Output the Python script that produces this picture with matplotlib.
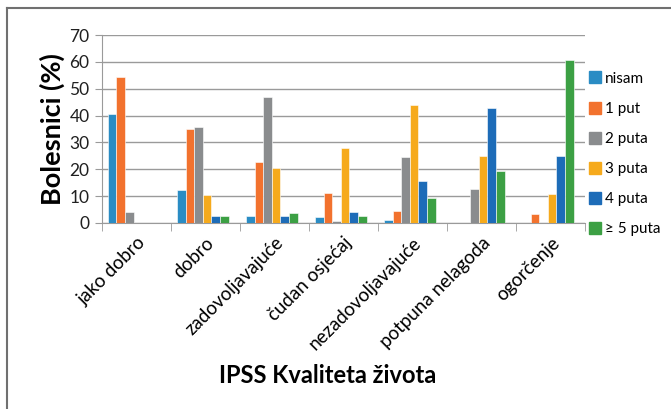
import numpy as np
import matplotlib
matplotlib.use('Agg')
import matplotlib.pyplot as plt
from matplotlib.lines import Line2D

plt.rcParams['font.family'] = ['Lato', 'DejaVu Sans']

categories = ['jako dobro', 'dobro', 'zadovoljavajuće', 'čudan osjećaj',
              'nezadovoljavajuće', 'potpuna nelagoda', 'ogorčenje']
series_names = ['nisam', '1 put', '2 puta', '3 puta', '4 puta', '≥ 5 puta']

nisam = [40.6, 12.1, 2.7, 2.2, 1.0, 0, 0]
put1 = [54.3, 35.0, 22.7, 11.2, 4.6, 0, 3.4]
puta2 = [4.1, 35.9, 47.1, 0.6, 24.5, 12.5, 0]
puta3 = [0, 10.3, 20.3, 28.1, 44.0, 24.9, 10.7]
puta4 = [0, 2.7, 2.7, 4.0, 15.8, 42.8, 24.9]
puta5 = [0, 2.7, 3.7, 2.7, 9.3, 19.3, 60.8]

colors = ['#2A8CC4', '#F2722E', '#8A8C8E', '#F6AA1C', '#1D6CB8', '#3CA044']

fig = plt.figure(figsize=(6.71, 4.09), dpi=100)
ax = fig.add_axes([0.152, 0.455, 0.72, 0.459])

x = np.arange(len(categories))
w = 0.125
all_series = [nisam, put1, puta2, puta3, puta4, puta5]
for i, vals in enumerate(all_series):
    ax.bar(x + (i - 2.5) * w - 0.04, vals, w, color=colors[i],
           edgecolor='white', linewidth=0.4, label=series_names[i], zorder=3)

ax.set_xlim(-0.5, len(categories) - 0.5)
ax.set_ylim(0, 70)
ax.set_yticks(range(0, 71, 10))
ax.yaxis.grid(True, color='#9a9a9a', linewidth=1.0, zorder=0)
ax.set_axisbelow(True)

ax.set_xticks(x)
ax.set_xticklabels(categories, rotation=45, ha='right', rotation_mode='anchor',
                   fontsize=13.5)
ax.set_xticks(np.arange(-0.5, len(categories)), minor=True)
ax.tick_params(axis='x', which='major', length=0, pad=8)
ax.tick_params(axis='x', which='minor', length=6, color='#9a9a9a')
ax.tick_params(axis='y', length=5, color='#9a9a9a', labelsize=12.5, pad=4,
               labelcolor='#202020')

for s in ['top', 'right']:
    ax.spines[s].set_visible(False)
for s in ['left', 'bottom']:
    ax.spines[s].set_color('#9a9a9a')

ax.set_ylabel('Bolesnici (%)', fontsize=19.5, fontweight='bold', labelpad=3)
fig.text(0.488, 0.083, 'IPSS Kvaliteta života', fontsize=17,
         fontweight='bold', ha='center', va='center')

handles = [Line2D([0], [0], marker='s', linestyle='none', markersize=8.5,
                  markerfacecolor=c, markeredgecolor=c) for c in colors]
fig.legend(handles, series_names, loc='upper left',
           bbox_to_anchor=(0.855, 0.858), frameon=False, fontsize=11,
           labelspacing=1.05, handletextpad=0.15, handlelength=1.0)

# frame around the figure (only top and left visible in the original)
fig.add_artist(Line2D([0.0105, 1], [0.98, 0.98], transform=fig.transFigure,
                      color='#707070', linewidth=1.5))
fig.add_artist(Line2D([0.0105, 0.0105], [0, 0.98], transform=fig.transFigure,
                      color='#707070', linewidth=1.5))

fig.savefig('out.png', dpi=100)
